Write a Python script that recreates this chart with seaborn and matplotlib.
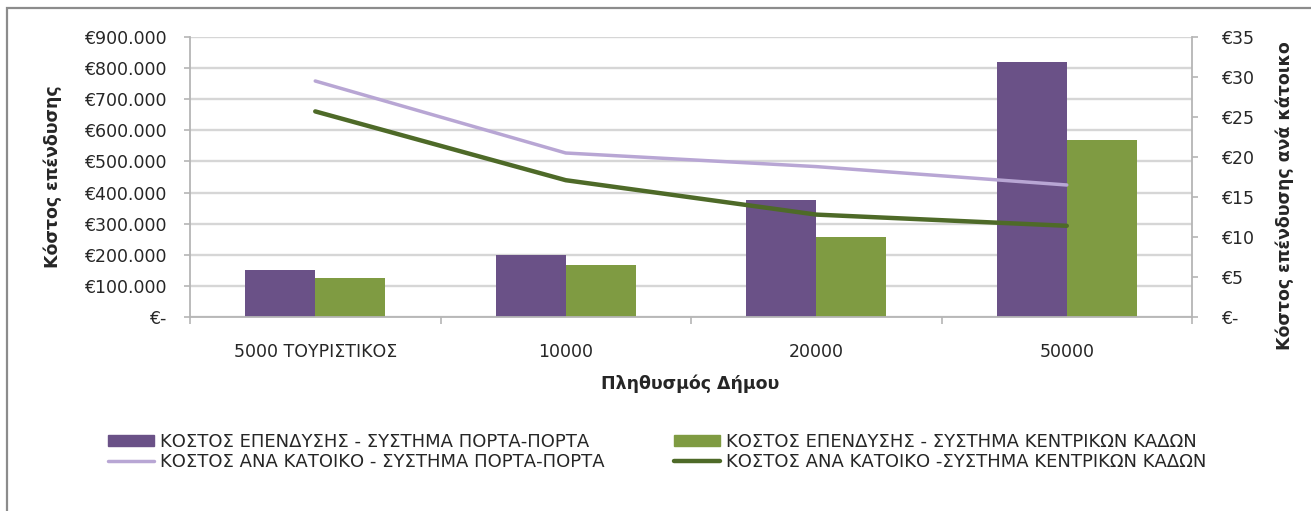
import pandas as pd
import matplotlib
matplotlib.use("Agg")
import matplotlib.pyplot as plt
import matplotlib.patches as mpatches
from matplotlib.ticker import FuncFormatter, MultipleLocator, FixedLocator
import seaborn as sns

# Data
categories = ["5000 ΤΟΥΡΙΣΤΙΚΟΣ", "10000", "20000", "50000"]
invest_door = [150000, 200000, 375000, 820000]
invest_bins = [125000, 167000, 258000, 570000]
per_cap_door = [29.5, 20.5, 18.8, 16.5]
per_cap_bins = [25.7, 17.1, 12.8, 11.4]

bar_names = ["ΚΟΣΤΟΣ ΕΠΕΝΔΥΣΗΣ - ΣΥΣΤΗΜΑ ΠΟΡΤΑ-ΠΟΡΤΑ",
             "ΚΟΣΤΟΣ ΕΠΕΝΔΥΣΗΣ - ΣΥΣΤΗΜΑ ΚΕΝΤΡΙΚΩΝ ΚΑΔΩΝ"]
line_names = ["ΚΟΣΤΟΣ ΑΝΑ ΚΑΤΟΙΚΟ - ΣΥΣΤΗΜΑ ΠΟΡΤΑ-ΠΟΡΤΑ",
              "ΚΟΣΤΟΣ ΑΝΑ ΚΑΤΟΙΚΟ -ΣΥΣΤΗΜΑ ΚΕΝΤΡΙΚΩΝ ΚΑΔΩΝ"]

bars = pd.DataFrame({
    "pop": categories * 2,
    "cost": invest_door + invest_bins,
    "series": [bar_names[0]] * 4 + [bar_names[1]] * 4,
})
lines = pd.DataFrame({
    "pop": categories * 2,
    "cost": per_cap_door + per_cap_bins,
    "series": [line_names[0]] * 4 + [line_names[1]] * 4,
})

sns.set_theme(style="white")
plt.rcParams["font.family"] = ["DejaVu Sans"]
txt = "#262626"
fs = 12.5
c_bar = ["#6a5187", "#7f9b42"]
c_line = ["#b8a6d4", "#4e6a28"]

W, H = 1311, 511
fig = plt.figure(figsize=(W / 100, H / 100), dpi=100)
ax = fig.add_axes([190 / W, 1 - 317 / H, (1192 - 190) / W, (317 - 37) / H])

sns.barplot(data=bars, x="pop", y="cost", hue="series", order=categories,
            palette=c_bar, width=0.56, saturation=1, linewidth=0,
            errorbar=None, ax=ax, legend=False, zorder=2)

ax2 = ax.twinx()
sns.pointplot(data=lines, x="pop", y="cost", hue="series", order=categories,
              palette=c_line, markers="", linestyles="-",
              errorbar=None, ax=ax2, legend=False)
for ln, lw in zip(ax2.lines, [2.5, 3.2]):
    ln.set_linewidth(lw)

ax.set_xlim(-0.5, 3.5)
ax2.set_xlim(-0.5, 3.5)
ax.set_ylim(0, 900000)
ax2.set_ylim(0, 35)
ax.yaxis.set_major_locator(MultipleLocator(100000))
ax2.yaxis.set_major_locator(MultipleLocator(5))
ax.yaxis.set_major_formatter(FuncFormatter(
    lambda v, p: "€-" if v == 0 else "€" + f"{int(v):,}".replace(",", ".")))
ax2.yaxis.set_major_formatter(FuncFormatter(
    lambda v, p: "€-" if v == 0 else f"€{int(v)}"))

ax.grid(axis="y", color="#d6d6d6", linewidth=1.7, zorder=0)
ax.set_axisbelow(True)
ax.grid(axis="x", visible=False)

spine_c = "#b5b5b5"
for a in (ax, ax2):
    for s in a.spines.values():
        s.set_visible(False)
ax.spines["left"].set_visible(True)
ax.spines["bottom"].set_visible(True)
ax2.spines["right"].set_visible(True)
for s in (ax.spines["left"], ax.spines["bottom"], ax2.spines["right"]):
    s.set_color(spine_c)
    s.set_linewidth(1.3)

ax.tick_params(axis="y", left=True, length=4, width=1.2, color=spine_c,
               pad=13, labelsize=fs, labelcolor=txt)
ax2.tick_params(axis="y", right=True, length=4, width=1.2, color=spine_c,
                pad=17, labelsize=fs, labelcolor=txt)
ax.tick_params(axis="x", bottom=False, length=0, pad=19, labelsize=fs, labelcolor=txt)
ax.xaxis.set_minor_locator(FixedLocator([-0.5, 0.5, 1.5, 2.5, 3.5]))
ax.tick_params(axis="x", which="minor", bottom=True, length=5, width=1.2, color=spine_c)
ax2.tick_params(axis="x", bottom=False, labelbottom=False)

ax.set_xlabel("")
ax.set_ylabel("")
ax2.set_xlabel("")
ax2.set_ylabel("")

fig.text(53 / W, 1 - 177 / H, "Κόστος επένδυσης", rotation=90, ha="center",
         va="center", fontsize=fs, fontweight="bold", color=txt)
fig.text(1285 / W, 1 - 196 / H, "Κόστος επένδυσης ανά κάτοικο", rotation=90,
         ha="center", va="center", fontsize=fs, fontweight="bold", color=txt)
fig.text(690 / W, 1 - 384 / H, "Πληθυσμός Δήμου", ha="center", va="center",
         fontsize=fs, fontweight="bold", color=txt)

# two legend columns, pinned where the reference puts them
col1 = [mpatches.Patch(color=c_bar[0]), plt.Line2D([], [], color=c_line[0], lw=2.5)]
col2 = [mpatches.Patch(color=c_bar[1]), plt.Line2D([], [], color=c_line[1], lw=3.2)]
for hs, labs, x0 in [(col1, [bar_names[0], line_names[0]], 108),
                     (col2, [bar_names[1], line_names[1]], 674)]:
    fig.legend(hs, labs, loc="center left", bbox_to_anchor=(x0 / W, 1 - 452 / H),
               frameon=False, fontsize=13, handlelength=2.55, handleheight=0.6,
               handletextpad=0.35, labelspacing=0.15, labelcolor=txt,
               borderaxespad=0, borderpad=0)

# chart frame
fig.patches.append(mpatches.Rectangle((7 / W, -0.1), 2, 1 - 8 / H + 0.1,
                                      fill=False, edgecolor="#8c8c8c", lw=1.6,
                                      transform=fig.transFigure))

fig.savefig("out.png", dpi=100)
